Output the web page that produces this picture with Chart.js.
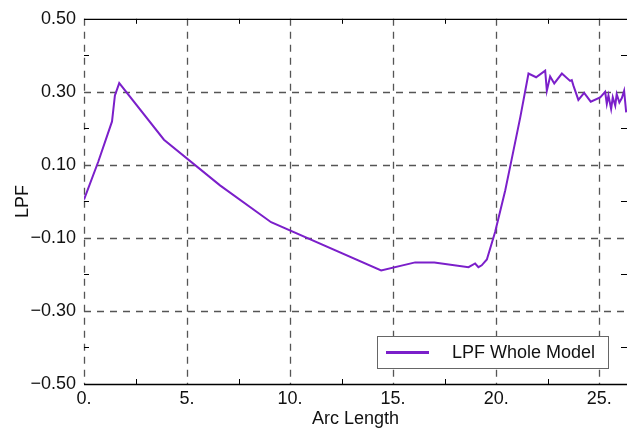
<!DOCTYPE html>
<html><head><meta charset="utf-8">
<script src="https://cdn.jsdelivr.net/npm/chart.js@4"></script>
<style>html,body{margin:0;padding:0;background:#fff}#wrap{width:627px;height:432px}</style>
</head><body><div id="wrap"><canvas id="c" width="627" height="432"></canvas></div>
<script>
const seriesLabel = 'LPF Whole Model';
const arcLength = [0.0, 0.7, 1.36, 1.5, 1.71, 3.88, 6.6, 9.08, 14.42, 16.07, 17.0, 18.66, 18.98, 19.14, 19.3, 19.55, 19.95, 20.44, 20.76, 21.17, 21.57, 21.94, 22.38, 22.46, 22.62, 22.82, 23.19, 23.59, 23.67, 23.75, 23.99, 24.27, 24.59, 25.05, 25.29, 25.37, 25.45, 25.58, 25.66, 25.78, 25.85, 25.98, 26.1, 26.21, 26.31];
const lpf = [0.005, 0.11, 0.219, 0.29, 0.324, 0.169, 0.044, -0.057, -0.189, -0.167, -0.167, -0.18, -0.17, -0.18, -0.175, -0.159, -0.084, 0.03, 0.117, 0.23, 0.35, 0.34, 0.358, 0.303, 0.342, 0.323, 0.35, 0.33, 0.332, 0.317, 0.278, 0.297, 0.273, 0.285, 0.30, 0.267, 0.29, 0.253, 0.285, 0.262, 0.294, 0.271, 0.283, 0.303, 0.244];
const xTicks = [0, 5, 10, 15, 20, 25];
const xMinor = [2.5, 7.5, 12.5, 17.5, 22.5];
const yTicks = [-0.5, -0.3, -0.1, 0.1, 0.3, 0.5];
const yMinor = [-0.4, -0.2, 0, 0.2, 0.4];
const xTickLabels = ['0.', '5.', '10.', '15.', '20.', '25.'];
const yTickLabels = ['\u22120.50', '\u22120.30', '\u22120.10', '0.10', '0.30', '0.50'];
const lineColor = '#7b1fca';
const FONT = '"Liberation Sans", Arial, sans-serif';

const decor = {
  id: 'decor',
  beforeDatasetsDraw(chart) {
    const {ctx, chartArea: a, scales: {x, y}} = chart;
    ctx.save();
    ctx.strokeStyle = '#555';
    ctx.lineWidth = 1.3;
    ctx.setLineDash([7, 6]);
    xTicks.forEach(v => { const px = Math.round(x.getPixelForValue(v)) + 0.5; ctx.beginPath(); ctx.moveTo(px, a.top); ctx.lineTo(px, a.bottom); ctx.stroke(); });
    yTicks.slice(1, -1).forEach(v => { const py = Math.round(y.getPixelForValue(v)) + 0.5; ctx.beginPath(); ctx.moveTo(a.left, py); ctx.lineTo(a.right, py); ctx.stroke(); });
    ctx.setLineDash([]);
    ctx.strokeStyle = '#000';
    ctx.lineWidth = 1.3;
    ctx.beginPath();
    ctx.moveTo(a.left, a.top + 0.5); ctx.lineTo(a.right, a.top + 0.5);
    ctx.moveTo(a.left, a.bottom + 0.5); ctx.lineTo(a.right, a.bottom + 0.5);
    ctx.stroke();
    ctx.lineWidth = 1;
    ctx.beginPath();
    xMinor.forEach(v => { const px = Math.round(x.getPixelForValue(v)) + 0.5; ctx.moveTo(px, a.bottom); ctx.lineTo(px, a.bottom - 5); ctx.moveTo(px, a.top); ctx.lineTo(px, a.top + 5); });
    yMinor.forEach(v => { const py = Math.round(y.getPixelForValue(v)) + 0.5; ctx.moveTo(a.left, py); ctx.lineTo(a.left + 5, py); ctx.moveTo(a.right, py); ctx.lineTo(a.right - 6, py); });
    ctx.stroke();
    ctx.restore();
  },
  afterDatasetsDraw(chart) {
    const {ctx} = chart;
    ctx.save();
    const bx = 377.5, by = 336.5, bw = 231, bh = 32;
    ctx.fillStyle = '#fff';
    ctx.fillRect(bx, by, bw, bh);
    ctx.strokeStyle = '#666';
    ctx.lineWidth = 1;
    ctx.strokeRect(bx, by, bw, bh);
    ctx.strokeStyle = lineColor;
    ctx.lineWidth = 3;
    ctx.beginPath(); ctx.moveTo(386, 352.5); ctx.lineTo(429, 352.5); ctx.stroke();
    ctx.fillStyle = '#111';
    ctx.font = '18px ' + FONT;
    ctx.textBaseline = 'middle';
    ctx.fillText(seriesLabel, 452, 353);
    ctx.restore();
  }
};

new Chart(document.getElementById('c'), {
  type: 'scatter',
  data: { datasets: [{ label: seriesLabel, data: arcLength.map((v, i) => ({x: v, y: lpf[i]})), showLine: true, borderColor: lineColor, borderWidth: 2, pointRadius: 0, tension: 0 }] },
  options: {
    responsive: false, animation: false, devicePixelRatio: 1,
    layout: { padding: { left: 0, right: 0, top: 18, bottom: 0 } },
    plugins: { legend: { display: false }, tooltip: { enabled: false } },
    scales: {
      x: {
        type: 'linear', min: 0, max: 26.35,
        afterBuildTicks: s => { s.ticks = xTicks.map(v => ({value: v})); },
        afterFit: s => { s.height = 48; },
        grid: { display: false, drawTicks: false },
        border: { display: false },
        ticks: { color: '#111', font: { size: 18, family: FONT }, padding: 4, maxRotation: 0, autoSkip: false, callback: (v) => xTickLabels[xTicks.indexOf(v)] },
        title: { display: true, text: 'Arc Length', color: '#111', font: { size: 18, family: FONT }, padding: { top: 0, bottom: 2 } }
      },
      y: {
        type: 'linear', min: -0.5, max: 0.5,
        afterBuildTicks: s => { s.ticks = yTicks.map(v => ({value: v})); },
        afterFit: s => { s.width = 84; },
        grid: { display: false, drawTicks: false },
        border: { display: false },
        ticks: { color: '#111', font: { size: 18, family: FONT }, padding: 8, autoSkip: false, callback: (v) => yTickLabels[yTicks.findIndex(t => Math.abs(t - v) < 1e-9)] },
        title: { display: true, text: 'LPF', color: '#111', font: { size: 18, family: FONT }, padding: { top: 12, bottom: 2 } }
      }
    }
  },
  plugins: [decor]
});
</script></body></html>
